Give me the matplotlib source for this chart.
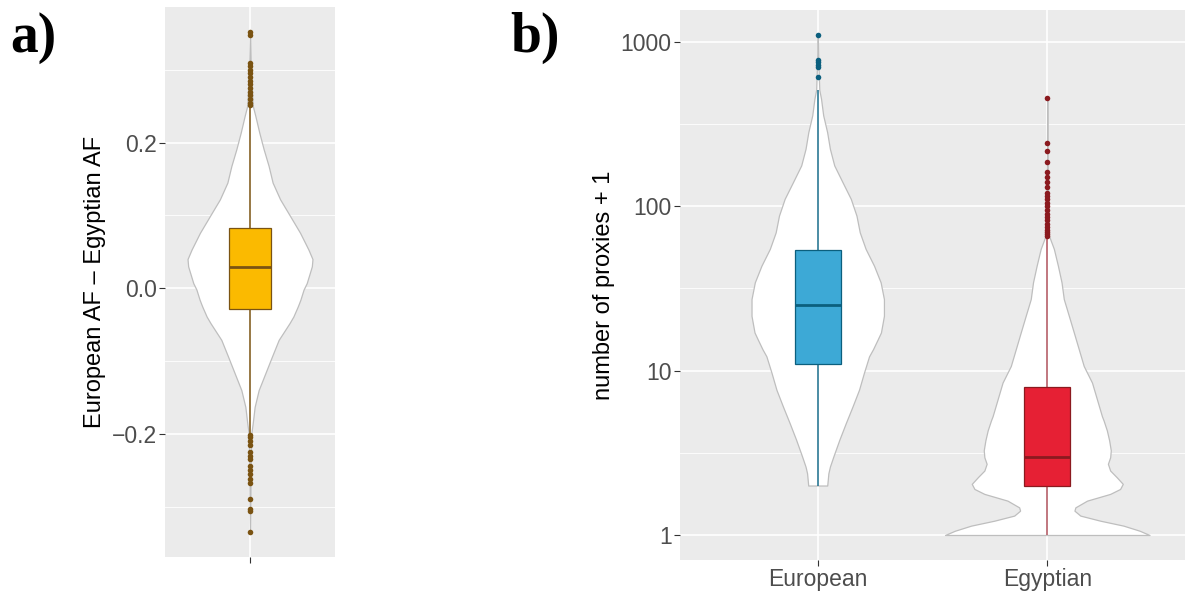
import numpy as np
import matplotlib.pyplot as plt
from matplotlib.ticker import NullFormatter

# ---------------- datos panel a ----------------
af_viol_y = [0.352, 0.31, 0.251, 0.237, 0.214, 0.191, 0.168, 0.145, 0.122, 0.099,
             0.076, 0.053, 0.040, 0.030, 0.007, -0.002, -0.016, -0.025, -0.039,
             -0.048, -0.071, -0.094, -0.117, -0.140, -0.163, -0.186, -0.2, -0.25,
             -0.335]
af_viol_w = [0.0, 0.01, 0.042, 0.083, 0.145, 0.214, 0.292, 0.355, 0.473, 0.63,
             0.786, 0.917, 0.98, 0.97, 0.89, 0.84, 0.79, 0.75, 0.68,
             0.62, 0.45, 0.344, 0.24, 0.136, 0.073, 0.042, 0.02, 0.01,
             0.0]
# lo, q1, mediana, q3, hi
af_stats = [-0.2, -0.028, 0.029, 0.083, 0.25]
af_outliers = [0.352, 0.348, 0.31, 0.305, 0.30, 0.295, 0.29, 0.285, 0.28, 0.275,
               0.27, 0.265, 0.26, 0.255, 0.252,
               -0.202, -0.205, -0.21, -0.215, -0.225, -0.23, -0.235, -0.245,
               -0.25, -0.255, -0.262, -0.268, -0.29, -0.303, -0.306, -0.335]

# ---------------- datos panel b ----------------
groups = ["European", "Egyptian"]
eur_viol_log = [3.05, 2.9, 2.709, 2.654, 2.553, 2.451, 2.349, 2.248, 2.146, 2.045,
                1.943, 1.841, 1.74, 1.638, 1.537, 1.435, 1.333, 1.232, 1.189, 1.13,
                1.087, 0.986, 0.884, 0.782, 0.681, 0.579, 0.477, 0.416, 0.375, 0.301]
eur_viol_w = [0.0, 0.005, 0.015, 0.032, 0.053, 0.091, 0.118, 0.16, 0.24, 0.32,
              0.375, 0.407, 0.464, 0.545, 0.609, 0.641, 0.641, 0.612, 0.58, 0.535,
              0.497, 0.447, 0.40, 0.337, 0.272, 0.209, 0.151, 0.118, 0.103, 0.092]
egy_viol_log = [2.659, 2.3, 2.0, 1.821, 1.74, 1.638, 1.537, 1.435, 1.333, 1.232,
                1.13, 1.028, 0.927, 0.825, 0.723, 0.697, 0.636, 0.576, 0.515,
                0.473, 0.433, 0.392, 0.351, 0.311, 0.280, 0.25, 0.209, 0.168,
                0.148, 0.118, 0.087, 0.057, 0.026, 0.0]
egy_viol_w = [0.0, 0.003, 0.01, 0.016, 0.064, 0.103, 0.138, 0.16, 0.209, 0.257,
              0.305, 0.353, 0.433, 0.481, 0.529, 0.545, 0.577, 0.599, 0.615,
              0.609, 0.587, 0.609, 0.673, 0.731, 0.705, 0.609, 0.385, 0.272,
              0.263, 0.32, 0.513, 0.737, 0.894, 0.99]
eur_stats = [2, 11, 25, 54, 512]
egy_stats = [1, 2, 3, 8, 64]
eur_outliers = [1100, 780, 755, 720, 700, 614]
egy_outliers = [456, 242, 218, 185, 161, 150, 140, 130, 120, 115, 110, 105, 100,
                95, 90, 86, 82, 78, 75, 72, 70, 68, 66]

# colores
af_fill, af_edge = "#FBBA00", "#7A5312"
eur_fill, eur_edge = "#3DA9D6", "#0B5F7E"
egy_fill, egy_edge = "#E62034", "#8B1A1F"
viol_edge = "#BEBEBE"

plt.rcParams['font.family'] = ['Liberation Sans', 'DejaVu Sans']

fig = plt.figure(figsize=(11.88, 5.95), dpi=100)
ax_a = fig.add_axes([165 / 1188, 1 - 557 / 595, 170 / 1188, 550 / 595])
ax_b = fig.add_axes([680 / 1188, 1 - 560 / 595, 505 / 1188, 550 / 595])


def estilo(ax):
    ax.set_facecolor("#EBEBEB")
    for s in ax.spines.values():
        s.set_visible(False)
    ax.set_axisbelow(True)
    ax.grid(which='major', color='white', lw=1.2)
    ax.grid(which='minor', color='white', lw=0.6)
    ax.tick_params(which='major', length=4, width=0.8, color='#333333',
                   labelsize=16.5, labelcolor='#4D4D4D', pad=2)
    ax.tick_params(which='minor', length=0)


def violin(ax, x, ys, ws, fill, edge, stats, outl, wcol, box_w):
    ws = np.array(ws) * 0.45
    ax.fill_betweenx(ys, x - ws, x + ws, facecolor='white', edgecolor=viol_edge,
                     lw=0.9, zorder=2)
    lo, q1, med, q3, hi = stats
    ax.vlines(x, q3, hi, color=wcol, lw=1.1, zorder=3)
    ax.vlines(x, lo, q1, color=wcol, lw=1.1, zorder=3)
    ax.bar(x, q3 - q1, bottom=q1, width=box_w, color=fill, edgecolor=edge,
           lw=0.9, zorder=4)
    ax.hlines(med, x - box_w / 2, x + box_w / 2, color=edge, lw=2.0, zorder=5)
    ax.plot([x] * len(outl), outl, 'o', color=edge, ms=4, mec='none', zorder=6)


# ---------------- panel a ----------------
estilo(ax_a)
violin(ax_a, 1, af_viol_y, af_viol_w, af_fill, af_edge, af_stats, af_outliers,
       af_edge, 0.3)
rng = max(af_viol_y) - min(af_viol_y)
ax_a.set_ylim(min(af_viol_y) - 0.05 * rng, max(af_viol_y) + 0.05 * rng)
ax_a.set_xlim(0.4, 1.6)
ax_a.set_xticks([1])
ax_a.set_xticklabels([''])
ax_a.set_yticks([-0.2, 0.0, 0.2])
ax_a.set_yticklabels(['\u22120.2', '0.0', '0.2'])
ax_a.set_yticks([-0.3, -0.1, 0.1, 0.3], minor=True)
ax_a.set_ylabel("European AF \u2013 Egyptian AF", fontsize=17, labelpad=4)

# ---------------- panel b ----------------
estilo(ax_b)
ax_b.set_yscale('log')
violin(ax_b, 1, 10 ** np.array(eur_viol_log), eur_viol_w, eur_fill, eur_edge,
       eur_stats, eur_outliers, "#1A6D8C", 0.2)
violin(ax_b, 2, 10 ** np.array(egy_viol_log), egy_viol_w, egy_fill, egy_edge,
       egy_stats, egy_outliers, "#B0525C", 0.2)
lmin, lmax = 0.0, np.log10(max(eur_outliers))
ax_b.set_ylim(10 ** (lmin - 0.05 * (lmax - lmin)), 10 ** (lmax + 0.05 * (lmax - lmin)))
ax_b.set_xlim(0.4, 2.6)
ax_b.set_xticks([1, 2])
ax_b.set_xticklabels(groups)
ax_b.set_yticks([1, 10, 100, 1000])
ax_b.set_yticklabels(['1', '10', '100', '1000'])
ax_b.set_yticks([10 ** 0.5, 10 ** 1.5, 10 ** 2.5], minor=True)
ax_b.yaxis.set_minor_formatter(NullFormatter())
ax_b.set_ylabel("number of proxies + 1", fontsize=17, labelpad=4)

fig.text(10 / 1188, 1 - 38 / 595, "a)", fontsize=40, fontweight='bold',
         family='Liberation Serif', va='center', ha='left')
fig.text(510 / 1188, 1 - 38 / 595, "b)", fontsize=40, fontweight='bold',
         family='Liberation Serif', va='center', ha='left')

fig.savefig("out.png", dpi=100)
